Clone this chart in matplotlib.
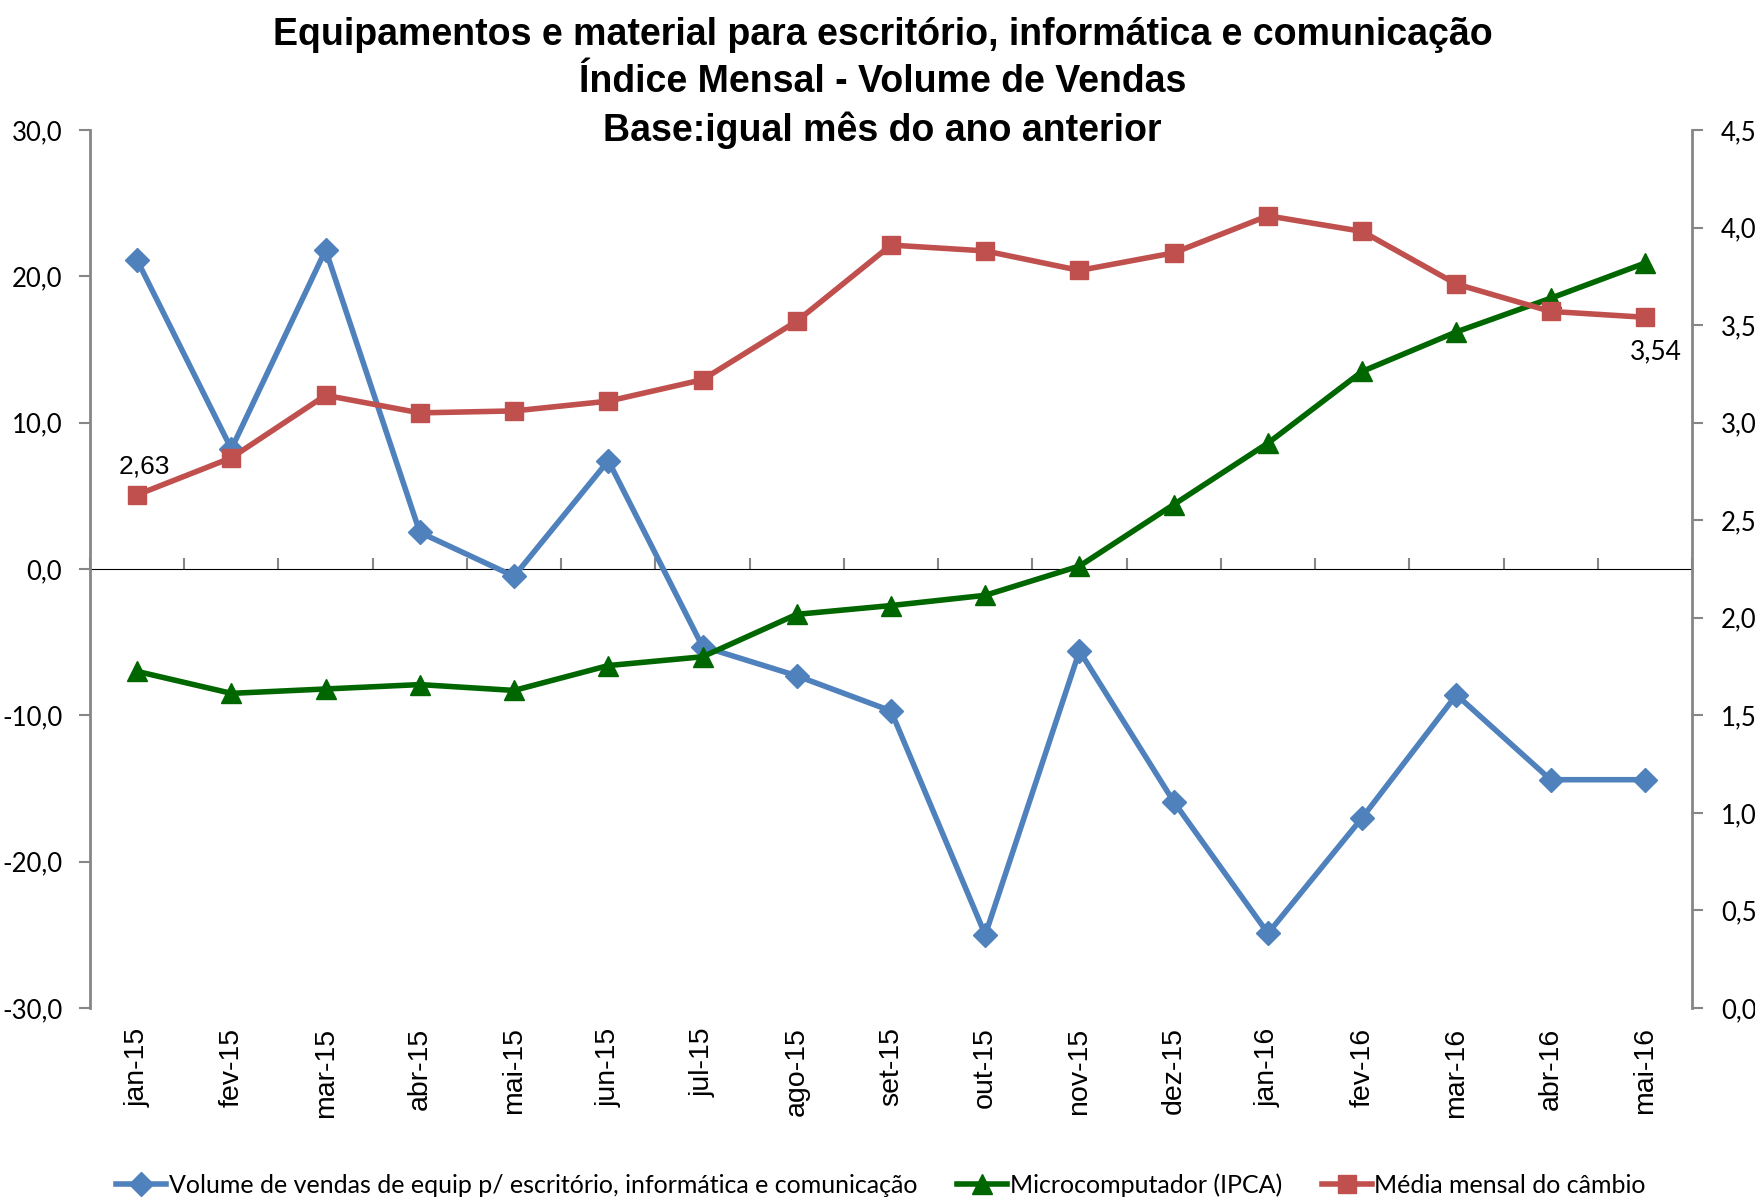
import matplotlib
matplotlib.use("Agg")
import matplotlib.pyplot as plt
from matplotlib.ticker import FuncFormatter

# data
months = ['jan-15', 'fev-15', 'mar-15', 'abr-15', 'mai-15', 'jun-15', 'jul-15',
          'ago-15', 'set-15', 'out-15', 'nov-15', 'dez-15', 'jan-16', 'fev-16',
          'mar-16', 'abr-16', 'mai-16']
volume = [21.1, 8.2, 21.8, 2.5, -0.5, 7.4, -5.3, -7.3, -9.7, -25.0, -5.6,
          -15.9, -24.9, -17.0, -8.6, -14.4, -14.4]
ipca_micro = [-7.0, -8.5, -8.2, -7.9, -8.3, -6.6, -6.0, -3.1, -2.5, -1.8, 0.2,
              4.4, 8.6, 13.5, 16.2, 18.5, 20.9]
cambio = [2.63, 2.82, 3.14, 3.05, 3.06, 3.11, 3.22, 3.52, 3.91, 3.88, 3.78,
          3.87, 4.06, 3.98, 3.71, 3.57, 3.54]

label_vol = 'Volume de vendas de equip p/ escritório, informática e comunicação'
label_ipca = 'Microcomputador (IPCA)'
label_cambio = 'Média mensal do câmbio'
title = ('Equipamentos e material para escritório, informática e comunicação\n'
         'Índice Mensal - Volume de Vendas\n'
         'Base:igual mês do ano anterior')

AXIS_GRAY = '#868686'
TICK_FONT = ['Lato', 'DejaVu Sans']
X_FONT = ['Liberation Sans', 'DejaVu Sans']


def comma_fmt(v, pos):
    return ('%.1f' % v).replace('.', ',')


fig = plt.figure(figsize=(17.55, 12.01), dpi=100)
ax = fig.add_axes([0.0513, 0.1607, 0.9128, 0.7311])
ax2 = ax.twinx()

x = list(range(len(months)))

ax.plot(x, volume, color='#4F81BD', lw=4, marker='D', ms=12,
        label=label_vol, zorder=3)
ax.plot(x, ipca_micro, color='#006600', lw=4, marker='^', ms=14,
        label=label_ipca, zorder=4)
ax2.plot(x, cambio, color='#C0504D', lw=4, marker='s', ms=13,
         label=label_cambio, zorder=3)

# value labels on the first and last exchange rate points
ax2.annotate(('%.2f' % cambio[0]).replace('.', ','), (x[0], cambio[0]),
             xytext=(5, 12), textcoords='offset points', ha='center',
             va='bottom', fontsize=19, family=X_FONT)
ax2.annotate(('%.2f' % cambio[-1]).replace('.', ','), (x[-1], cambio[-1]),
             xytext=(8, -16), textcoords='offset points', ha='center',
             va='top', fontsize=19, family=TICK_FONT)

# left axis
ax.set_xlim(-0.5, len(months) - 0.5)
ax.set_ylim(-30, 30)
ax.set_yticks(range(-30, 31, 10))
ax.yaxis.set_major_formatter(FuncFormatter(comma_fmt))
ax.tick_params(axis='y', length=8, width=1.5, color=AXIS_GRAY, pad=12,
               labelsize=18.5)
for lab in ax.get_yticklabels():
    lab.set_family(TICK_FONT)

# month labels at the bottom, no tick marks there
ax.set_xticks(x)
ax.set_xticklabels(months, rotation=90, fontsize=20.5, family=X_FONT)
ax.tick_params(axis='x', length=0, pad=14)

# right axis
ax2.set_ylim(0, 4.5)
ax2.set_yticks([i * 0.5 for i in range(10)])
ax2.yaxis.set_major_formatter(FuncFormatter(comma_fmt))
ax2.tick_params(axis='y', length=8, width=1.5, color=AXIS_GRAY, pad=13,
                labelsize=18.5)
for lab in ax2.get_yticklabels():
    lab.set_family(TICK_FONT)

for a in (ax, ax2):
    for side in ('top', 'bottom'):
        a.spines[side].set_visible(False)
ax.spines['right'].set_visible(False)
ax2.spines['left'].set_visible(False)
ax.spines['left'].set_color(AXIS_GRAY)
ax.spines['left'].set_linewidth(2)
ax2.spines['right'].set_color(AXIS_GRAY)
ax2.spines['right'].set_linewidth(2)

# category axis line at zero with tick marks between categories
zero_axis = ax.secondary_xaxis(0.5)
zero_axis.set_xticks([i - 0.5 for i in range(len(months) + 1)])
zero_axis.set_xticklabels([])
zero_axis.tick_params(axis='x', length=8, width=1.5, color=AXIS_GRAY,
                      direction='out')
zero_axis.spines['bottom'].set_color(AXIS_GRAY)
zero_axis.spines['bottom'].set_linewidth(2.2)

fig.suptitle(title, x=0.503, y=0.986, fontsize=27, fontweight='bold',
             family=['Liberation Sans Narrow', 'Liberation Sans'],
             linespacing=1.4)

h1, l1 = ax.get_legend_handles_labels()
h2, l2 = ax2.get_legend_handles_labels()
fig.legend(h1 + h2, l1 + l2, loc='center', bbox_to_anchor=(0.502, 0.013),
           ncol=3, frameon=False, prop={'family': TICK_FONT, 'size': 18},
           handlelength=2.0, handletextpad=0.1, columnspacing=1.6)

fig.savefig('out.png', dpi=100)
